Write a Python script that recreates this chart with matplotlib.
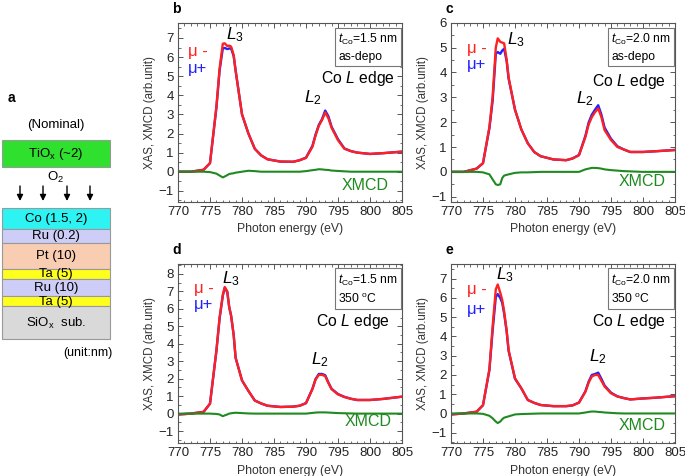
import matplotlib
matplotlib.use("Agg")
import matplotlib.pyplot as plt
from matplotlib.patches import Rectangle
from matplotlib.ticker import MultipleLocator

plt.rcParams['font.family'] = ['Liberation Sans', 'DejaVu Sans']
plt.rcParams['mathtext.fontset'] = 'custom'
plt.rcParams['mathtext.rm'] = 'Liberation Sans'
plt.rcParams['mathtext.it'] = 'Liberation Sans:italic'

# %% data
energy = [770, 772, 774, 775, 776, 776.5, 777, 777.3, 777.7, 778, 778.3, 778.7, 779, 780, 781,
          782, 783, 784, 786, 788, 789, 790, 791, 791.5, 792, 792.5, 793, 793.5, 794, 795,
          796, 797, 798, 800, 802, 805]

b_minus = [0.0, 0.0, 0.1, 0.45, 3.4, 5.4, 6.7, 6.72, 6.58, 6.6, 6.55, 6.1, 5.3, 3.0, 2.0,
           1.2, 0.85, 0.65, 0.53, 0.52, 0.6, 0.72, 1.3, 1.9, 2.4, 2.7, 3.1, 2.8, 2.3, 1.65,
           1.2, 1.08, 1.0, 0.93, 0.97, 1.05]
b_plus = [0.0, 0.0, 0.1, 0.45, 3.35, 5.3, 6.45, 6.48, 6.42, 6.45, 6.45, 6.05, 5.3, 3.0, 2.0,
          1.2, 0.85, 0.65, 0.53, 0.52, 0.6, 0.74, 1.35, 1.95, 2.45, 2.75, 3.2, 2.9, 2.35, 1.7,
          1.22, 1.08, 1.0, 0.93, 0.97, 1.05]
b_xmcd = [0, 0, 0, -0.02, -0.1, -0.2, -0.3, -0.25, -0.18, -0.12, -0.1, -0.08, -0.05, 0.0, 0.05,
          0.03, 0, 0, 0, 0, 0, 0.03, 0.08, 0.1, 0.13, 0.12, 0.1, 0.09, 0.06, 0.04,
          0.02, 0, 0, 0, 0, 0]

c_minus = [0.0, 0.0, 0.13, 0.35, 1.8, 3.0, 5.0, 5.37, 5.23, 5.2, 5.17, 4.5, 3.8, 2.5, 1.7,
           1.15, 0.8, 0.63, 0.5, 0.47, 0.54, 0.67, 1.4, 1.9, 2.2, 2.4, 2.55, 2.2, 1.68, 1.28,
           1.0, 0.9, 0.8, 0.8, 0.83, 0.88]
c_plus = [0.0, 0.0, 0.13, 0.35, 1.75, 2.85, 4.75, 4.82, 4.75, 4.88, 4.95, 4.45, 3.75, 2.5, 1.7,
          1.15, 0.8, 0.63, 0.5, 0.47, 0.54, 0.68, 1.45, 1.98, 2.3, 2.5, 2.68, 2.3, 1.78, 1.33,
          1.03, 0.9, 0.8, 0.8, 0.83, 0.88]
c_xmcd = [0, 0, 0, -0.02, -0.1, -0.3, -0.5, -0.53, -0.5, -0.25, -0.15, -0.12, -0.1, -0.04, -0.02,
          -0.02, -0.01, 0, 0, 0, 0, 0, 0.1, 0.13, 0.16, 0.16, 0.15, 0.13, 0.1, 0.07,
          0.05, 0.03, 0.02, 0, 0, 0]

d_minus = [-0.05, 0.0, 0.1, 0.57, 3.6, 5.5, 6.8, 7.25, 7.0, 6.1, 5.6, 4.5, 3.2, 1.9, 1.3,
           0.75, 0.58, 0.45, 0.38, 0.4, 0.45, 0.6, 1.4, 1.95, 2.22, 2.22, 2.15, 1.75, 1.4, 1.1,
           0.95, 0.85, 0.78, 0.78, 0.84, 0.97]
d_plus = [-0.05, 0.0, 0.1, 0.57, 3.6, 5.45, 6.75, 7.2, 6.95, 6.1, 5.6, 4.5, 3.2, 1.9, 1.3,
          0.75, 0.58, 0.45, 0.38, 0.4, 0.45, 0.6, 1.42, 1.98, 2.27, 2.27, 2.2, 1.78, 1.42, 1.12,
          0.96, 0.85, 0.78, 0.78, 0.84, 0.97]
d_xmcd = [0, 0, 0, 0, -0.02, -0.05, -0.15, -0.1, -0.05, 0.0, 0.02, 0.04, 0.05, 0.03, 0.01,
          0, 0, 0, 0, 0, 0, 0, 0.04, 0.06, 0.07, 0.07, 0.07, 0.06, 0.05, 0.03,
          0.02, 0.01, 0, 0, 0, 0]

e_minus = [-0.05, 0.0, 0.09, 0.43, 2.3, 4.5, 6.45, 6.7, 6.27, 5.9, 5.3, 4.3, 3.3, 1.83, 1.3,
           0.7, 0.55, 0.44, 0.38, 0.38, 0.42, 0.56, 1.13, 1.6, 1.92, 2.0, 2.0, 1.7, 1.4, 1.05,
           0.88, 0.8, 0.73, 0.78, 0.82, 0.9]
e_plus = [-0.05, 0.0, 0.09, 0.43, 2.25, 4.3, 6.05, 6.2, 6.0, 5.75, 5.2, 4.25, 3.25, 1.8, 1.3,
          0.7, 0.55, 0.44, 0.38, 0.38, 0.42, 0.57, 1.15, 1.65, 2.0, 2.05, 2.12, 1.8, 1.45, 1.08,
          0.89, 0.8, 0.73, 0.78, 0.82, 0.9]
e_xmcd = [0, 0, 0, -0.02, -0.12, -0.25, -0.42, -0.5, -0.42, -0.3, -0.22, -0.18, -0.15, -0.05, -0.03,
          -0.02, -0.01, 0, 0, 0, 0, 0, 0.05, 0.08, 0.1, 0.1, 0.08, 0.07, 0.05, 0.03,
          0.01, 0, 0, 0, 0, 0]

# panel letter, minus, plus, xmcd, box text, ylim, L3 pos, L2 pos
panels = [
    ("b", b_minus, b_plus, b_xmcd, "$t_{\\rm Co}$=1.5 nm\nas-depo", (-1.57, 7.8), (778.9, 7.15), (791.1, 3.9)),
    ("c", c_minus, c_plus, c_xmcd, "$t_{\\rm Co}$=2.0 nm\nas-depo", (-1.2, 6.0), (780.2, 5.3), (790.9, 2.95)),
    ("d", d_minus, d_plus, d_xmcd, "$t_{\\rm Co}$=1.5 nm\n350 $^{\\rm o}$C", (-1.7, 8.55), (778.3, 7.7), (792.2, 3.1)),
    ("e", e_minus, e_plus, e_xmcd, "$t_{\\rm Co}$=2.0 nm\n350 $^{\\rm o}$C", (-1.55, 7.75), (778.4, 7.23), (793.0, 2.96)),
]
yticks = [range(-1, 8), range(-1, 7), range(-1, 9), range(-1, 8)]
# text anchors in axes fractions: mu- (x, y), mu+ y, Co L edge (x, y), XMCD (x, y)
mu_pos = [(0.045, 0.838, 0.745), (0.07, 0.857, 0.764), (0.072, 0.866, 0.773), (0.07, 0.857, 0.745)]
edge_pos = [(0.967, 0.69), (0.96, 0.674), (0.948, 0.679), (0.96, 0.68)]
xmcd_pos = [(0.94, 0.093), (0.96, 0.112), (0.955, 0.12), (0.96, 0.10)]

# layer stack for panel a
layer_names = ["Co (1.5, 2)", "Ru (0.2)", "Pt (10)", "Ta (5)", "Ru (10)", "Ta (5)", "SiO$_{\\rm x}$  sub."]
layer_colors = ["#2ef3f3", "#cdcdf8", "#f8cdb2", "#ffff1e", "#cdcdf8", "#ffff1e", "#d9d9d9"]
layer_px = [21, 14, 26, 10, 17, 10, 33]

# %%
W, H = 685, 476
fig = plt.figure(figsize=(W / 100, H / 100), dpi=100)

# schematic in pixel coordinates
sch = fig.add_axes([0, 0, 1, 1])
sch.set_xlim(0, W)
sch.set_ylim(H, 0)
sch.axis("off")
sch.text(8, 98, "a", fontsize=10, fontweight="bold", va="center")
sch.text(56, 125, "(Nominal)", fontsize=9.5, ha="center", va="center")
sch.add_patch(Rectangle((2, 140), 108, 27, facecolor="#2fe02f", edgecolor="#999999", lw=0.8))
sch.text(56, 153.5, "TiO$_{\\rm x}$ (~2)", fontsize=9.5, ha="center", va="center")
sch.text(56, 177, "O$_2$", fontsize=9.5, ha="center", va="center")
for ax_x in [20, 43, 67, 90]:
    sch.annotate("", xy=(ax_x, 201), xytext=(ax_x, 186),
                 arrowprops=dict(arrowstyle="-|>", color="black", lw=1.0, mutation_scale=9,
                                 shrinkA=0, shrinkB=0))
top = 208
for name, col, h in zip(layer_names, layer_colors, layer_px):
    sch.add_patch(Rectangle((2, top), 108, h, facecolor=col, edgecolor="#999999", lw=0.8))
    sch.text(56, top + h / 2 + 0.5, name, fontsize=9.5, ha="center", va="center")
    top += h
sch.text(88, 353, "(unit:nm)", fontsize=9, ha="center", va="center")

# spectra
lefts = [178, 451, 178, 451]
tops = [22.7, 22.7, 264.3, 264.3]
aw, ah = 224, 179
for i, (letter, mminus, mplus, xmcd, box, ylim, l3, l2) in enumerate(panels):
    ax = fig.add_axes([lefts[i] / W, 1 - (tops[i] + ah) / H, aw / W, ah / H])
    ax.plot(energy, mplus, color="#2222ff", lw=1.7)
    ax.plot(energy, mminus, color="#ff2020", lw=1.7)
    ax.plot(energy, xmcd, color="#1f8a1f", lw=1.5)
    ax.set_xlim(770, 805)
    ax.set_ylim(*ylim)
    ax.set_xticks(range(770, 806, 5))
    ax.set_yticks(list(yticks[i]))
    ax.xaxis.set_minor_locator(MultipleLocator(1))
    ax.yaxis.set_minor_locator(MultipleLocator(0.5))
    ax.tick_params(which="both", direction="in", top=True, right=True, labelsize=9.5,
                   color="#555555", labelcolor="#222222", pad=3)
    ax.tick_params(which="major", length=3.5, width=0.7)
    ax.tick_params(which="minor", length=1.8, width=0.6)
    for s in ax.spines.values():
        s.set_color("#555555")
        s.set_linewidth(0.8)
    ax.set_xlabel("Photon energy (eV)", fontsize=8.8, color="#333333", labelpad=4)
    ax.set_ylabel("XAS, XMCD (arb.unit)", fontsize=8.3, color="#333333", labelpad=2)

    mx, my1, my2 = mu_pos[i]
    ax.text(mx, my1, "μ -", color="#ff2020", fontsize=12, transform=ax.transAxes, va="center")
    ax.text(mx, my2, "μ+", color="#2222ff", fontsize=12, transform=ax.transAxes, va="center")
    ax.text(*l3, "$L_3$", fontsize=12.5, ha="center", va="center")
    ax.text(*l2, "$L_2$", fontsize=12.5, ha="center", va="center")
    ax.text(*edge_pos[i], "Co $L$ edge", fontsize=11.3, ha="right", va="center", transform=ax.transAxes)
    ax.text(*xmcd_pos[i], "XMCD", fontsize=11.5, color="#1f8a1f", ha="right", va="center",
            transform=ax.transAxes)
    ax.text(0.715, 0.86, box, fontsize=8.7, ha="left", va="center", transform=ax.transAxes,
            linespacing=1.45,
            bbox=dict(boxstyle="square,pad=0.25", facecolor="white", edgecolor="#777777", lw=0.8))
    fig.text((lefts[i] - 6) / W, 1 - (tops[i] - 14) / H, letter, fontsize=10, fontweight="bold",
             va="center")

fig.savefig("out.png", dpi=100)
